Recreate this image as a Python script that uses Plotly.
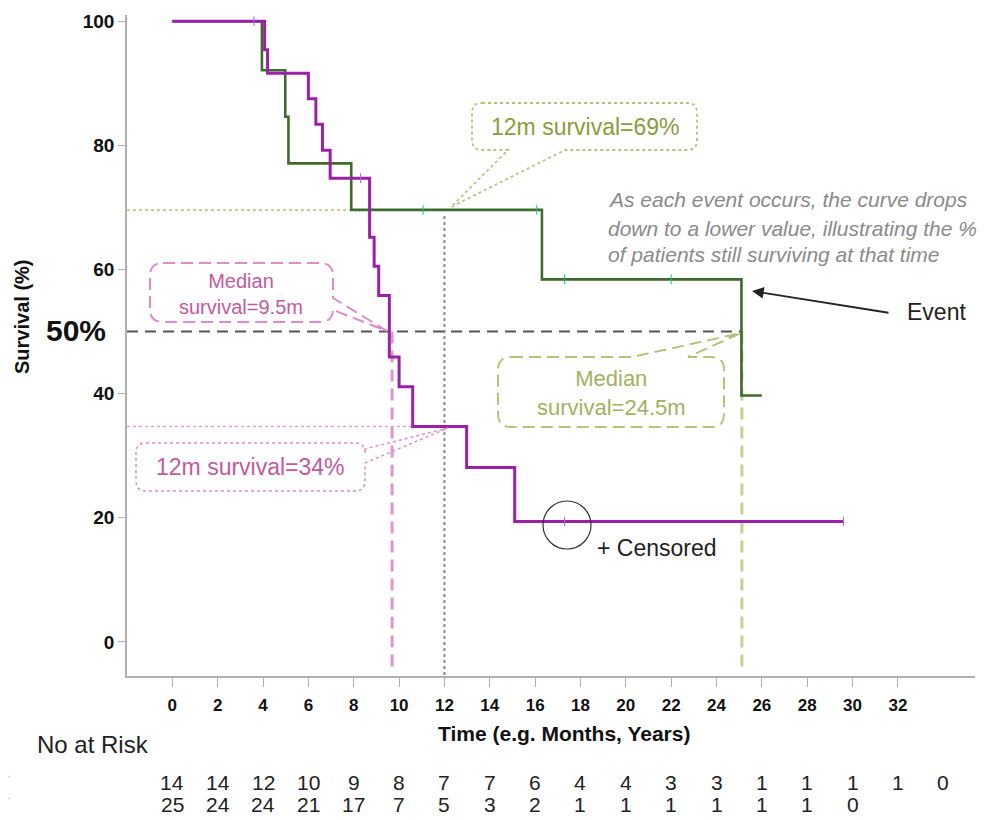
import plotly.graph_objects as go

# ---------------- data ----------------
green_t = [0, 3.95, 4.98, 5.12, 7.89, 16.3, 25.1, 26.0]
green_s = [100, 92.1, 84.6, 77.1, 69.6, 58.4, 39.7, 39.7]
purple_t = [0, 4.07, 4.2, 6.0, 6.33, 6.62, 6.96, 8.7, 8.9, 9.1, 9.57, 10.0, 10.6, 12.98, 15.1, 29.6]
purple_s = [100, 95.4, 91.6, 87.5, 83.4, 79.2, 74.7, 65.2, 60.5, 55.8, 45.9, 41.1, 34.7, 28.1, 19.4, 19.4]
green_cens_t = [11.06, 16.07, 17.3, 22.0]
green_cens_s = [69.6, 69.6, 58.4, 58.4]
purple_cens_t = [3.6, 8.3, 17.3, 29.6]
purple_cens_s = [100, 74.7, 19.4, 19.4]

x_ticks = list(range(0, 33, 2))
y_ticks = [0, 20, 40, 60, 80, 100]
risk_times = list(range(0, 35, 2))
risk_row1 = [14, 14, 12, 10, 9, 8, 7, 7, 6, 4, 4, 3, 3, 1, 1, 1, 1, 0]
risk_row2 = [25, 24, 24, 21, 17, 7, 5, 3, 2, 1, 1, 1, 1, 1, 1, 0]

median_purple = 9.69
median_green = 25.12
landmark = 12
surv12_green = 69.6
surv12_purple = 34.7

# ---------------- layout geometry ----------------
W, H = 992, 820
L, R, T, B = 127, 17, 15, 144
XR = [-2, 35.4]
YR = [-5.5, 101]
PW = W - L - R
PH = H - T - B


def dx(px):
    return XR[0] + (px - L) / PW * (XR[1] - XR[0])


def dy(py):
    return YR[0] + (T + PH - py) / PH * (YR[1] - YR[0])


def px_of(x):
    return L + (x - XR[0]) / (XR[1] - XR[0]) * PW


def paper_x(px):
    return (px - L) / PW


def paper_y(py):
    return (T + PH - py) / PH


FONT = "Arial, Liberation Sans, sans-serif"

OLIVE_TXT = "#8c9b3c"
OLIVE_LN = "#b9c27c"
PINK_TXT = "#c25aa0"
PINK_LN = "#dd8ccb"
GREEN = "#3e6b2c"
PURPLE = "#9b1fa8"

fig = go.Figure()

fig.add_trace(go.Scatter(x=green_t, y=green_s, mode="lines", line=dict(color=GREEN, width=2.6, shape="hv"),
                         hoverinfo="skip", showlegend=False))
fig.add_trace(go.Scatter(x=purple_t, y=purple_s, mode="lines", line=dict(color=PURPLE, width=3, shape="hv"),
                         hoverinfo="skip", showlegend=False))
fig.add_trace(go.Scatter(x=green_cens_t, y=green_cens_s, mode="markers",
                         marker=dict(symbol="line-ns-open", size=7, line=dict(color="#6f8f5f", width=1)),
                         hoverinfo="skip", showlegend=False))
fig.add_trace(go.Scatter(x=purple_cens_t, y=purple_cens_s, mode="markers",
                         marker=dict(symbol="line-ns-open", size=7, line=dict(color="#c98fd0", width=1)),
                         hoverinfo="skip", showlegend=False))

shapes = []
# reference lines
shapes.append(dict(type="line", xref="x", yref="y", x0=XR[0], x1=landmark, y0=surv12_green, y1=surv12_green,
                   line=dict(color="#c8cf8e", width=2, dash="dot"), layer="below"))
shapes.append(dict(type="line", xref="x", yref="y", x0=XR[0], x1=landmark, y0=surv12_purple, y1=surv12_purple,
                   line=dict(color="#e4a0d3", width=1.5, dash="dot"), layer="below"))
shapes.append(dict(type="line", xref="x", yref="y", x0=XR[0], x1=median_green, y0=50, y1=50,
                   line=dict(color="#555555", width=2, dash="11px,7px"), layer="below"))
shapes.append(dict(type="line", xref="x", yref="y", x0=landmark, x1=landmark, y0=68.6, y1=YR[0],
                   line=dict(color="#888888", width=2, dash="dot"), layer="below"))
shapes.append(dict(type="line", xref="x", yref="y", x0=median_purple, x1=median_purple, y0=50, y1=-4.2,
                   line=dict(color="#e195cc", width=3, dash="12px,7px"), layer="below"))
shapes.append(dict(type="line", xref="x", yref="y", x0=median_green, x1=median_green, y0=50, y1=-4.2,
                   line=dict(color="#c9cf92", width=3, dash="12px,7px"), layer="below"))


def callout(x0, y0, x1, y1, r, side, a, b, tip):
    pts = []

    def P(cmd, *xy):
        s = cmd
        for i in range(0, len(xy), 2):
            s += f" {dx(xy[i]):.4f},{dy(xy[i+1]):.4f}"
        pts.append(s)
    P("M", x0 + r, y0)
    if side == "top":
        P("L", a, y0); P("L", *tip); P("L", b, y0)
    P("L", x1 - r, y0)
    P("Q", x1, y0, x1, y0 + r)
    if side == "right":
        P("L", x1, a); P("L", *tip); P("L", x1, b)
    P("L", x1, y1 - r)
    P("Q", x1, y1, x1 - r, y1)
    if side == "bottom":
        P("L", b, y1); P("L", *tip); P("L", a, y1)
    P("L", x0 + r, y1)
    P("Q", x0, y1, x0, y1 - r)
    P("L", x0, y0 + r)
    P("Q", x0, y0, x0 + r, y0)
    return " ".join(pts) + " Z"


shapes.append(dict(type="path", xref="x", yref="y",
                   path=callout(472, 103, 697, 150, 10, "bottom", 508, 565, (451, 207)),
                   line=dict(color=OLIVE_LN, width=1.8, dash="dot")))
shapes.append(dict(type="path", xref="x", yref="y",
                   path=callout(150, 263, 333, 322, 13, "right", 298, 310, (387, 331)),
                   line=dict(color=PINK_LN, width=2, dash="12px,6px")))
shapes.append(dict(type="path", xref="x", yref="y",
                   path=callout(136, 443, 365, 491, 10, "right", 449, 463, (448, 428)),
                   line=dict(color=PINK_LN, width=1.5, dash="dot")))
shapes.append(dict(type="path", xref="x", yref="y",
                   path=callout(498, 357, 724, 427, 13, "top", 632, 688, (741, 333)),
                   line=dict(color=OLIVE_LN, width=2, dash="12px,6px")))
# censored circle
shapes.append(dict(type="circle", xref="x", yref="y", x0=dx(543), x1=dx(591), y0=dy(501), y1=dy(549),
                   line=dict(color="#333333", width=1.2)))

ann = []


def txt(px, py, text, size, color, bold=False, italic=False, xanchor="center"):
    t = text
    if italic:
        t = f"<i>{t}</i>"
    ann.append(dict(xref="paper", yref="paper", x=paper_x(px), y=paper_y(py), text=t, showarrow=False,
                    xanchor=xanchor, yanchor="middle",
                    font=dict(family=FONT, size=size, color=color, weight="bold" if bold else "normal")))


txt(585, 127, "12m survival=69%", 23, OLIVE_TXT)
txt(241, 294, "Median<br>survival=9.5m", 20, PINK_TXT)
txt(250, 467, "12m survival=34%", 23, PINK_TXT)
txt(611, 393, "Median<br>survival=24.5m", 22, "#a3b15e")
txt(606, 200, "As each event occurs, the curve drops", 21, "#8a8a8a", italic=True, xanchor="left")
txt(606, 228, "down to a lower value, illustrating the %", 21, "#8a8a8a", italic=True, xanchor="left")
txt(606, 254, "of patients still surviving at that time", 21, "#8a8a8a", italic=True, xanchor="left")
txt(905, 312, "Event", 23, "#222222", xanchor="left")
txt(595, 548, "+ Censored", 23, "#222222", xanchor="left")
txt(76, 330, "50%", 30, "#111111", bold=True)
txt(564, 733, "Time (e.g. Months, Years)", 21, "#111111", bold=True)
txt(35, 745, "No at Risk", 24, "#222222", xanchor="left")
txt(9, 776, "·", 12, "#bbbbbb")
txt(9, 798, "·", 12, "#bbbbbb")

ann.append(dict(xref="paper", yref="paper", x=paper_x(22), y=paper_y(317), text="Survival (%)", textangle=-90,
                showarrow=False, xanchor="center", yanchor="middle",
                font=dict(family=FONT, size=20, color="#111111", weight="bold")))

# Event arrow
ann.append(dict(xref="x", yref="y", x=dx(752), y=dy(291), axref="x", ayref="y", ax=dx(890), ay=dy(313),
                text="", showarrow=True, arrowhead=2, arrowsize=1.3, arrowwidth=1.8, arrowcolor="#222222"))

# numbers at risk
for t, v in zip(risk_times, risk_row1):
    ann.append(dict(xref="paper", yref="paper", x=paper_x(px_of(t)), y=paper_y(782), text=str(v),
                    showarrow=False, xanchor="center", yanchor="middle",
                    font=dict(family=FONT, size=21, color="#222222")))
for t, v in zip(risk_times, risk_row2):
    ann.append(dict(xref="paper", yref="paper", x=paper_x(px_of(t)), y=paper_y(804), text=str(v),
                    showarrow=False, xanchor="center", yanchor="middle",
                    font=dict(family=FONT, size=21, color="#222222")))

fig.update_layout(
    width=W, height=H,
    margin=dict(l=L, r=R, t=T, b=B, pad=0),
    paper_bgcolor="white", plot_bgcolor="white",
    shapes=shapes, annotations=ann,
    showlegend=False,
    xaxis=dict(range=XR, showgrid=False, zeroline=False, showline=True, linecolor="#b0b0b0", linewidth=1.5,
               ticks="outside", ticklen=9, tickcolor="#b0b0b0", tickwidth=1, tickvals=x_ticks,
               ticklabelstandoff=4,
               tickfont=dict(family=FONT, size=17, color="#111111", weight="bold")),
    yaxis=dict(range=YR, showgrid=False, zeroline=False, showline=True, linecolor="#b0b0b0", linewidth=1.5,
               ticks="outside", ticklen=7, tickcolor="#b0b0b0", tickwidth=1, tickvals=y_ticks,
               tickfont=dict(family=FONT, size=19, color="#111111", weight="bold")),
)

fig.write_html("out.html", config={"displayModeBar": False},
               post_script="document.body.style.margin='0';document.body.style.overflow='hidden';")
